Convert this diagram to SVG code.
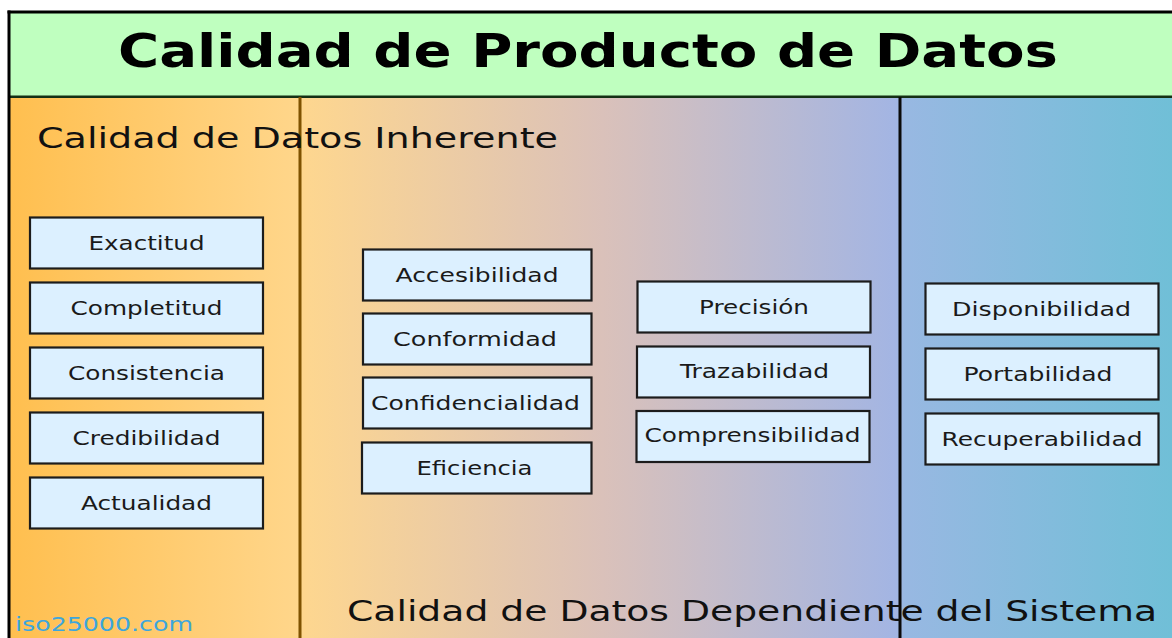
<svg xmlns="http://www.w3.org/2000/svg" width="1172" height="638" viewBox="0 0 1172 638">
  <defs>
    <linearGradient id="bg" gradientUnits="userSpaceOnUse" x1="10" y1="0" x2="1172" y2="0">
      <stop offset="0" stop-color="#FFBF4F"/>
      <stop offset="0.249" stop-color="#FFD68B"/>
      <stop offset="0.258" stop-color="#FDD690"/>
      <stop offset="0.51" stop-color="#DAC1BA"/>
      <stop offset="0.762" stop-color="#A3B5E3"/>
      <stop offset="0.77" stop-color="#98B8E2"/>
      <stop offset="1" stop-color="#70BFD7"/>
    </linearGradient>
    <style>
      .box { fill: #dcf0ff; stroke: #1c1c1c; stroke-width: 2.2; }
      .lbl { font-family: "DejaVu Sans", Verdana, sans-serif; font-size: 19px; fill: #1a1a1a; text-anchor: middle; }
      .sec { font-family: "DejaVu Sans", Verdana, sans-serif; font-size: 27.5px; fill: #111; }
      .title { font-family: "DejaVu Sans", Verdana, sans-serif; font-size: 46px; font-weight: bold; fill: #000; }
    </style>
  </defs>

  <rect x="0" y="0" width="1172" height="638" fill="#ffffff"/>

  <g id="background">
    <rect x="9" y="97" width="1163" height="541" fill="url(#bg)"/>
    <rect x="9" y="12" width="1163" height="85" fill="#bfffbf"/>
    <line x1="9" y1="96.7" x2="1172" y2="96.7" stroke="#143014" stroke-width="2.5"/>
    <line x1="7.5" y1="12" x2="1172" y2="12" stroke="#000" stroke-width="3"/>
    <line x1="9" y1="10.5" x2="9" y2="638" stroke="#000" stroke-width="3"/>
    <line x1="300" y1="97" x2="300" y2="638" stroke="#7f5200" stroke-width="3"/>
    <line x1="900" y1="97" x2="900" y2="638" stroke="#0a0a0a" stroke-width="3"/>
  </g>

  <g id="titles">
    <text class="title" x="118" y="66.5" textLength="940" lengthAdjust="spacingAndGlyphs">Calidad de Producto de Datos</text>
    <text class="sec" x="37" y="148.3" textLength="521" lengthAdjust="spacingAndGlyphs">Calidad de Datos Inherente</text>
    <text class="sec" x="347" y="621" textLength="810" lengthAdjust="spacingAndGlyphs">Calidad de Datos Dependiente del Sistema</text>
    <text x="15" y="631" textLength="178" lengthAdjust="spacingAndGlyphs" style="font-family: 'DejaVu Sans', Verdana, sans-serif; font-size: 19px; fill: #3da6dd;">iso25000.com</text>
  </g>

  <g id="connectors"></g>

  <g id="n-exactitud"><rect class="box" x="30" y="217.5" width="233" height="51"/><text class="lbl" x="146.5" y="250" textLength="116" lengthAdjust="spacingAndGlyphs">Exactitud</text></g>
  <g id="n-completitud"><rect class="box" x="30" y="282.5" width="233" height="51"/><text class="lbl" x="146.5" y="315" textLength="152" lengthAdjust="spacingAndGlyphs">Completitud</text></g>
  <g id="n-consistencia"><rect class="box" x="30" y="347.5" width="233" height="51"/><text class="lbl" x="146.5" y="380" textLength="157" lengthAdjust="spacingAndGlyphs">Consistencia</text></g>
  <g id="n-credibilidad"><rect class="box" x="30" y="412.5" width="233" height="51"/><text class="lbl" x="146.5" y="445" textLength="148" lengthAdjust="spacingAndGlyphs">Credibilidad</text></g>
  <g id="n-actualidad"><rect class="box" x="30" y="477.5" width="233" height="51"/><text class="lbl" x="146.5" y="510" textLength="131" lengthAdjust="spacingAndGlyphs">Actualidad</text></g>

  <g id="n-accesibilidad"><rect class="box" x="363" y="249.5" width="228.5" height="51"/><text class="lbl" x="477" y="282" textLength="163" lengthAdjust="spacingAndGlyphs">Accesibilidad</text></g>
  <g id="n-conformidad"><rect class="box" x="363" y="313.5" width="228.5" height="51"/><text class="lbl" x="475" y="346" textLength="164" lengthAdjust="spacingAndGlyphs">Conformidad</text></g>
  <g id="n-confidencialidad"><rect class="box" x="363" y="377.5" width="228.5" height="51"/><text class="lbl" x="475.5" y="410" textLength="209" lengthAdjust="spacingAndGlyphs">Confidencialidad</text></g>
  <g id="n-eficiencia"><rect class="box" x="362" y="442.5" width="229.5" height="51"/><text class="lbl" x="474.5" y="475" textLength="116" lengthAdjust="spacingAndGlyphs">Eficiencia</text></g>

  <g id="n-precision"><rect class="box" x="637.5" y="281.5" width="233" height="51"/><text class="lbl" x="754" y="314.3" textLength="110" lengthAdjust="spacingAndGlyphs">Precisión</text></g>
  <g id="n-trazabilidad"><rect class="box" x="637" y="346.5" width="233" height="51"/><text class="lbl" x="754.5" y="378.3" textLength="149" lengthAdjust="spacingAndGlyphs">Trazabilidad</text></g>
  <g id="n-comprensibilidad"><rect class="box" x="636.5" y="411" width="233" height="51"/><text class="lbl" x="752.5" y="441.7" textLength="216" lengthAdjust="spacingAndGlyphs">Comprensibilidad</text></g>

  <g id="n-disponibilidad"><rect class="box" x="925.5" y="283.5" width="233" height="51"/><text class="lbl" x="1041.5" y="315.7" textLength="179" lengthAdjust="spacingAndGlyphs">Disponibilidad</text></g>
  <g id="n-portabilidad"><rect class="box" x="925.5" y="348.5" width="233" height="51"/><text class="lbl" x="1038" y="380.7" textLength="149" lengthAdjust="spacingAndGlyphs">Portabilidad</text></g>
  <g id="n-recuperabilidad"><rect class="box" x="925.5" y="413.5" width="233" height="51"/><text class="lbl" x="1042" y="445.7" textLength="201" lengthAdjust="spacingAndGlyphs">Recuperabilidad</text></g>
</svg>
